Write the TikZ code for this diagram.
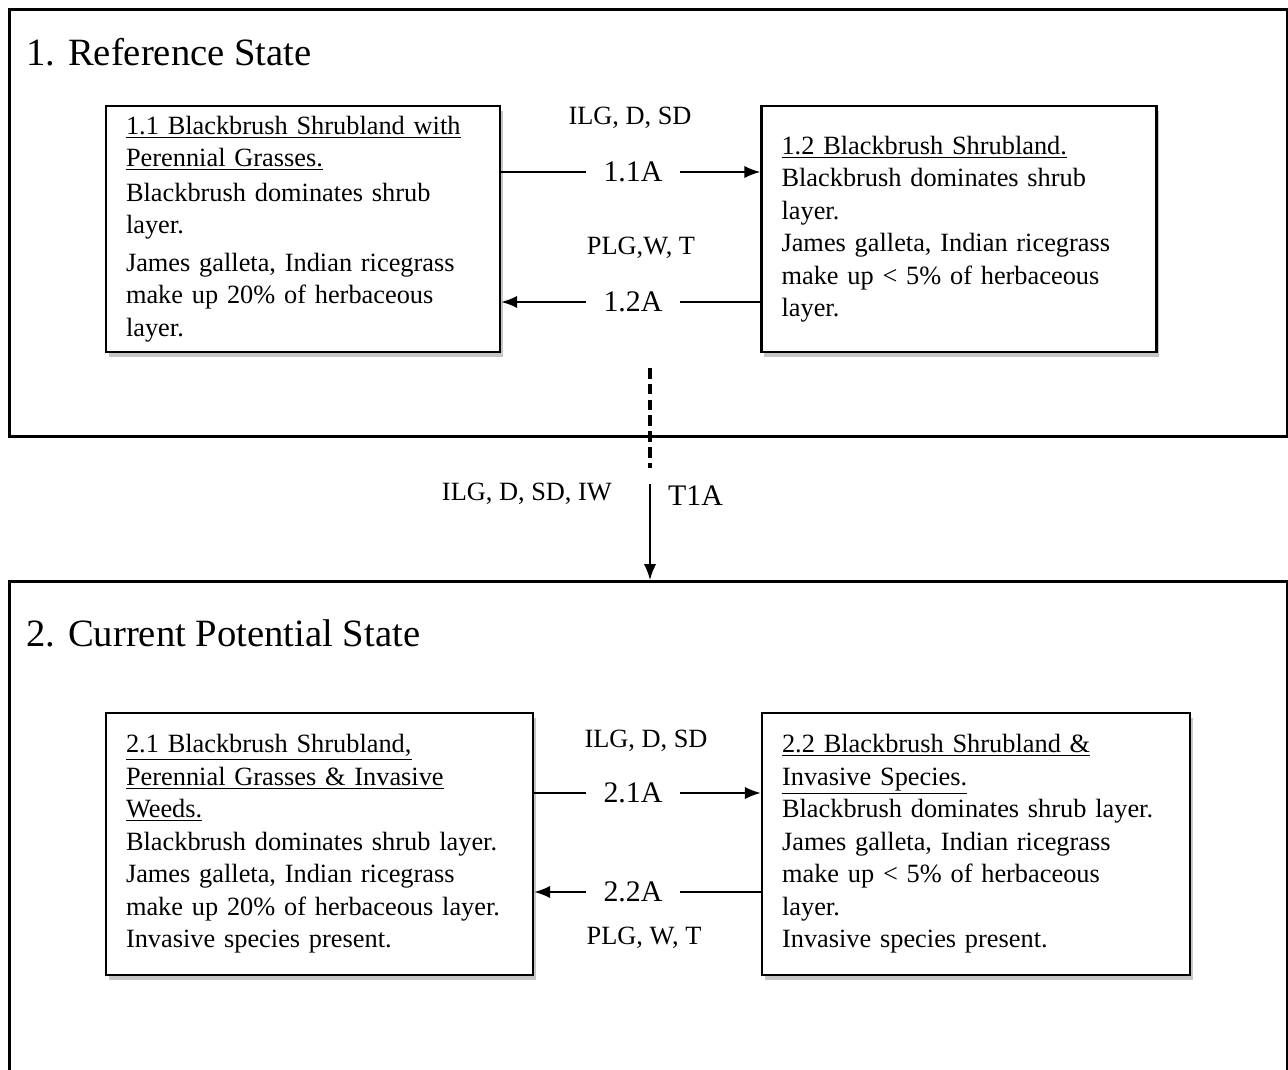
\documentclass[tikz,border=0pt]{standalone}
\usepackage{fontspec}
\setmainfont{Liberation Serif}
\usetikzlibrary{positioning,calc,arrows.meta,shadows}

\begin{document}
\begin{tikzpicture}[x=0.02cm, y=-0.02cm,
    statebox/.style={rectangle, draw, line width=1.8pt, anchor=north west, inner sep=0pt},
    phasebox/.style={rectangle, draw, line width=1.5pt, fill=white, align=left,
        inner xsep=0.4cm, font=\fontsize{15}{18.5}\selectfont,
        drop shadow={shadow xshift=1.5pt, shadow yshift=-3pt, opacity=0.45}},
    pathlabel/.style={font=\fontsize{17}{20}\selectfont, inner xsep=0.35cm, inner ysep=2pt},
    driver/.style={font=\fontsize{15}{18}\selectfont},
    title/.style={anchor=west, font=\fontsize{22}{26}\selectfont},
    arrow/.style={line width=1pt, -{Latex[length=9pt,width=7pt]}}
]
    \useasboundingbox (0,0) rectangle (1288,1069);

    % Reference State
    \node[statebox, minimum width=25.56cm, minimum height=8.54cm] (s1) at (8,8) {};
    \node[title] (s1title) at (20,52) {1. Reference State};

    \node[phasebox, minimum height=4.92cm, text width=7.08cm] (p11) at (303,229)
        {\underline{1.1 Blackbrush Shrubland with}\\
         \underline{Perennial Grasses.}\\[1pt]
         Blackbrush dominates shrub\\
         layer.\\[3pt]
         James galleta, Indian ricegrass\\
         make up 20\% of herbaceous\\
         layer.};
    \node[phasebox, minimum height=4.92cm, text width=7.1cm] (p12) at (959,229)
        {\underline{1.2 Blackbrush Shrubland.}\\
         Blackbrush dominates shrub\\
         layer.\\
         James galleta, Indian ricegrass\\
         make up < 5\% of herbaceous\\
         layer.};

    \node[driver] (d11) at (630,118) {ILG, D, SD};
    \node[pathlabel] (l11) at (633,172) {1.1A};
    \node[driver] (d12) at (641,248) {PLG,W, T};
    \node[pathlabel] (l12) at (633,302) {1.2A};

    \draw[line width=1pt] (p11.east |- l11) -- (l11);
    \draw[arrow] (l11) -- (p12.west |- l11);
    \draw[line width=1.4pt] (p12.west |- l12) -- (l12);
    \draw[arrow] (l12) -- (p11.east |- l12);

    % Current Potential State
    \node[statebox, minimum width=25.56cm, minimum height=10.4cm] (s2) at (8,580) {};
    \node[title] (s2title) at (20,633) {2. Current Potential State};

    \node[phasebox, minimum height=5.24cm, text width=7.74cm] (p21) at (319.5,844)
        {\underline{2.1 Blackbrush Shrubland,}\\
         \underline{Perennial Grasses \& Invasive}\\
         \underline{Weeds.}\\
         Blackbrush dominates shrub layer.\\
         James galleta, Indian ricegrass\\
         make up 20\% of herbaceous layer.\\
         Invasive species present.};
    \node[phasebox, minimum height=5.24cm, text width=7.76cm] (p22) at (976,844)
        {\underline{2.2 Blackbrush Shrubland \&}\\
         \underline{Invasive Species.}\\
         Blackbrush dominates shrub layer.\\
         James galleta, Indian ricegrass\\
         make up < 5\% of herbaceous\\
         layer.\\
         Invasive species present.};

    \node[driver] (d21) at (646,741) {ILG, D, SD};
    \node[pathlabel] (l21) at (633,793) {2.1A};
    \node[driver] (d22) at (644,938) {PLG, W, T};
    \node[pathlabel] (l22) at (633,892) {2.2A};

    \draw[line width=1pt] (p21.east |- l21) -- (l21);
    \draw[arrow] (l21) -- (p22.west |- l21);
    \draw[line width=1pt] (p22.west |- l22) -- (l22);
    \draw[arrow] (l22) -- (p21.east |- l22);

    % Transition T1A
    \coordinate (t1top) at (650,368);
    \coordinate (t1break) at (650,468);
    \coordinate (t1start) at (650,484);
    \draw[line width=1.8pt, dash pattern=on 6pt off 3pt] (t1top) -- (t1break);
    \draw[arrow] (t1start) -- (t1start |- s2.north);
    \node[driver, anchor=east] (d1t) at (618,494) {ILG, D, SD, IW};
    \node[driver, anchor=west, font=\fontsize{17}{20}\selectfont] (lt1) at (662,496) {T1A};
\end{tikzpicture}
\end{document}
